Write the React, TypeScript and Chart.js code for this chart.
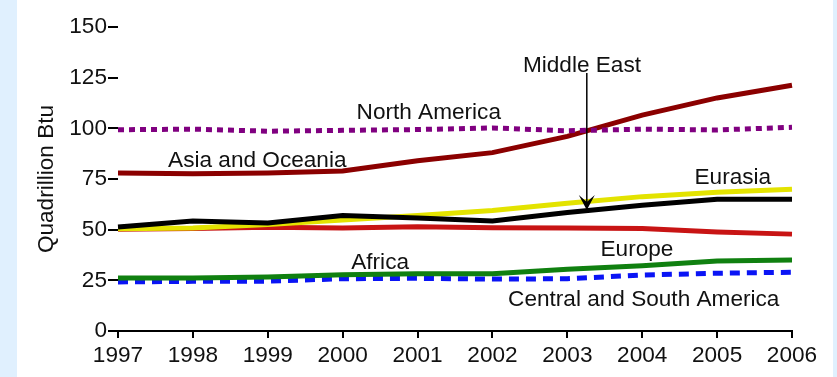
import React, { useEffect, useRef } from "react";
import { Chart, registerables } from "chart.js";

Chart.register(...registerables);

const years = ["1997", "1998", "1999", "2000", "2001", "2002", "2003", "2004", "2005", "2006"];
const yTicks = [0, 25, 50, 75, 100, 125, 150];

const middleEast = [51.3, 54.3, 53.3, 57.0, 55.7, 54.3, 58.5, 62.0, 65.0, 65.0];
const eurasia = [50.5, 50.8, 52.5, 54.8, 57.0, 59.5, 63.0, 66.3, 68.5, 70.0];
const europe = [50.2, 50.6, 51.2, 50.8, 51.5, 51.0, 50.8, 50.6, 48.8, 47.8];
const africa = [26.1, 26.2, 26.6, 27.8, 28.2, 28.3, 30.5, 32.2, 34.5, 35.0];
const centralSouthAmerica = [24.2, 24.5, 24.6, 25.8, 26.0, 25.6, 25.8, 27.6, 28.5, 29.0];
const northAmerica = [99.3, 99.6, 98.6, 99.0, 99.4, 100.2, 98.8, 99.6, 99.2, 100.5];
const asiaOceania = [78.0, 77.6, 78.0, 79.0, 84.0, 88.0, 96.0, 106.5, 115.0, 121.3];

const seriesNames = [
  "Middle East",
  "Eurasia",
  "Europe",
  "Africa",
  "Central and South America",
  "North America",
  "Asia and Oceania",
];

// label placements in data space: [category index, value]
const labelText = [
  "Middle East",
  "North America",
  "Asia and Oceania",
  "Eurasia",
  "Europe",
  "Africa",
  "Central and South America",
];
const labelX = [6.195, 4.15, 1.86, 8.21, 6.93, 3.5, 7.02];
const labelY = [131.0, 107.5, 84.0, 75.5, 40.0, 33.5, 15.6];
const arrowX = 6.26;
const arrowFrom = 127.3;
const arrowTo = 59.7;

const FONT = "'Liberation Sans', Arial, sans-serif";

const bgPlugin = {
  id: "bg",
  beforeDraw(chart: any) {
    const { ctx, width, height } = chart;
    ctx.save();
    ctx.fillStyle = "#e0f0fe";
    ctx.fillRect(0, 0, width, height);
    ctx.fillStyle = "#ffffff";
    ctx.fillRect(17, 0, 816, height);
    ctx.restore();
  },
};

const labelPlugin = {
  id: "labels",
  afterDatasetsDraw(chart: any) {
    const { ctx } = chart;
    const xs = chart.scales.x;
    const ys = chart.scales.y;
    const px = (i: number) => xs.left + (i / (years.length - 1)) * (xs.right - xs.left);
    ctx.save();
    ctx.fillStyle = "#111111";
    ctx.font = `22.6px ${FONT}`;
    ctx.textAlign = "center";
    ctx.textBaseline = "middle";
    labelText.forEach((t, i) => {
      ctx.fillText(t, px(labelX[i]), ys.getPixelForValue(labelY[i]));
    });
    // arrow
    const ax = px(arrowX);
    const y0 = ys.getPixelForValue(arrowFrom);
    const y1 = ys.getPixelForValue(arrowTo);
    ctx.strokeStyle = "#000000";
    ctx.lineWidth = 1.5;
    ctx.beginPath();
    ctx.moveTo(ax, y0);
    ctx.lineTo(ax, y1 - 6);
    ctx.stroke();
    ctx.fillStyle = "#000000";
    ctx.beginPath();
    ctx.moveTo(ax, y1);
    ctx.lineTo(ax - 8, y1 - 15);
    ctx.lineTo(ax, y1 - 8);
    ctx.lineTo(ax + 8, y1 - 15);
    ctx.closePath();
    ctx.fill();
    ctx.restore();
  },
};

export default function App() {
  const ref = useRef<HTMLCanvasElement>(null);
  useEffect(() => {
    document.body.style.margin = "0";
    const solid = (label: string, data: number[], color: string) => ({
      label,
      data,
      borderColor: color,
      backgroundColor: color,
      borderWidth: 5,
      pointRadius: 0,
      tension: 0,
      fill: false,
    });
    const chart = new Chart(ref.current!, {
      type: "line",
      data: {
        labels: years,
        datasets: [
          solid(seriesNames[0], middleEast, "#000000"),
          solid(seriesNames[1], eurasia, "#e3e300"),
          solid(seriesNames[2], europe, "#c81414"),
          solid(seriesNames[3], africa, "#108010"),
          { ...solid(seriesNames[4], centralSouthAmerica, "#0a14f5"), borderDash: [10, 7], borderWidth: 5 },
          { ...solid(seriesNames[5], northAmerica, "#800080"), borderDash: [6, 5], borderWidth: 5 },
          solid(seriesNames[6], asiaOceania, "#8b0000"),
        ],
      },
      options: {
        animation: false,
        responsive: false,
        maintainAspectRatio: false,
        layout: { padding: { left: 0, right: 45, top: 27, bottom: 0 } },
        plugins: { legend: { display: false }, tooltip: { enabled: false } },
        scales: {
          x: {
            type: "category",
            offset: false,
            grid: { drawOnChartArea: false, drawTicks: true, tickLength: 7, color: "#000000", lineWidth: 2 },
            border: { display: true, color: "#000000", width: 2 },
            ticks: { color: "#111111", font: { size: 22.6, family: FONT }, padding: 4, maxRotation: 0, autoSkip: false },
            afterFit(scale: any) {
              scale.height = 46;
            },
          },
          y: {
            min: 0,
            max: 150,
            afterBuildTicks(scale: any) {
              scale.ticks = yTicks.map((v) => ({ value: v }));
            },
            grid: { drawOnChartArea: false, drawTicks: true, tickLength: 10, color: "#000000", lineWidth: 2 },
            border: { display: false },
            ticks: { color: "#111111", font: { size: 22.6, family: FONT }, padding: 1 },
            title: {
              display: true,
              text: "Quadrillion Btu",
              color: "#111111",
              font: { size: 22.6, family: FONT },
              padding: { top: 33, bottom: 0 },
            },
            afterFit(scale: any) {
              scale.width = 118;
            },
          },
        },
      },
      plugins: [bgPlugin, labelPlugin],
    });
    return () => chart.destroy();
  }, []);
  return (
    <div style={{ position: "absolute", left: 0, top: 0, width: 837, height: 377 }}>
      <canvas ref={ref} width={837} height={377} style={{ width: 837, height: 377, display: "block" }} />
    </div>
  );
}
